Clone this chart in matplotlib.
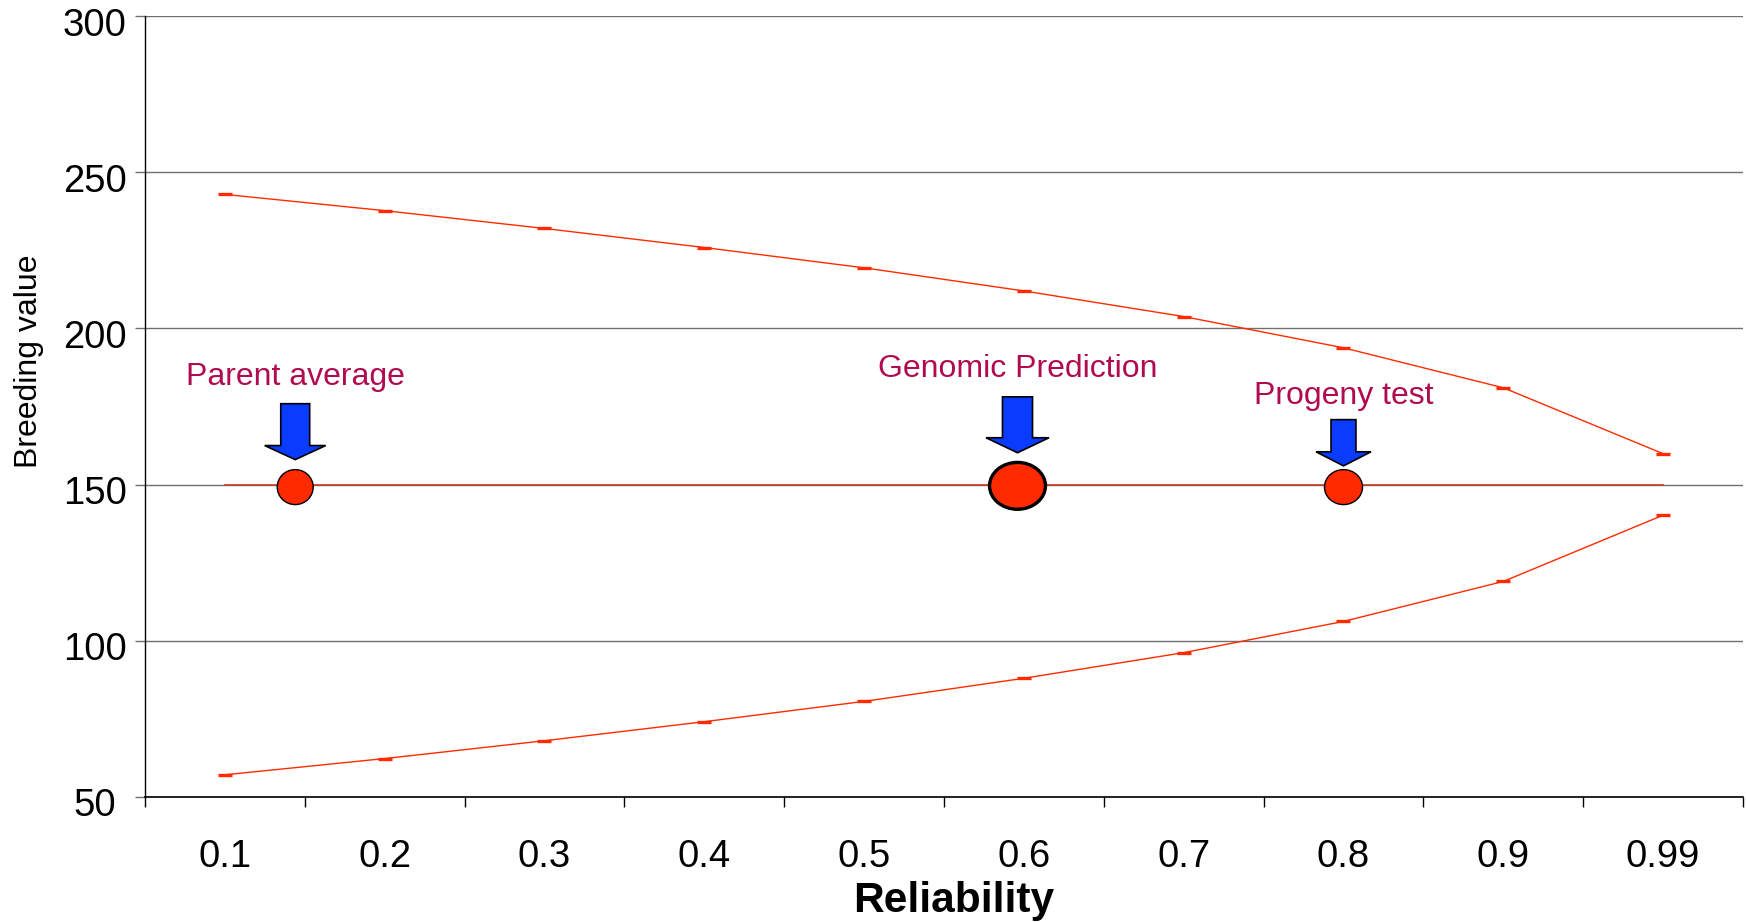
import matplotlib
matplotlib.use("Agg")
import matplotlib.pyplot as plt
from matplotlib.patches import Ellipse, FancyArrow
from matplotlib.transforms import ScaledTranslation

plt.rcParams["font.family"] = ["Liberation Sans", "DejaVu Sans"]

# reliability classes on the x axis
reliability = ["0.1", "0.2", "0.3", "0.4", "0.5", "0.6", "0.7", "0.8", "0.9", "0.99"]

# breeding value with its confidence bounds
upper = [242.9, 237.7, 232.0, 225.9, 219.4, 212.0, 203.8, 193.8, 181.0, 159.9]
mean = [150] * 10
lower = [57.1, 62.3, 68.0, 74.1, 80.6, 88.0, 96.2, 106.2, 119.0, 140.2]

# evaluation methods and where they sit on the reliability scale
methods = ["Parent average", "Genomic Prediction", "Progeny test"]
method_pos = [0.44, 4.96, 7.0]
method_value = [149.2, 149.6, 149.2]

RED = "#FF2A00"
BLUE = "#0A3CFF"
TEXT = "#B00A50"

fig = plt.figure(figsize=(17.47, 9.22), dpi=100)
ax = fig.add_axes([0.083, 0.1356, 0.9147, 0.847])

x = list(range(len(reliability)))
ax.set_xlim(-0.5, len(reliability) - 0.5)
ax.set_ylim(50, 300)

ax.yaxis.grid(True, color="#707070", linewidth=1.0)
ax.set_axisbelow(True)

for series in (upper, lower):
    ax.plot(x, series, color=RED, linewidth=1.0, marker="_",
            markersize=10, markeredgewidth=2.4, zorder=3)
ax.plot(x, mean, color="#C83C24", linewidth=1.2, zorder=3)

# marker ellipses; the genomic one is larger and outlined
sizes = [(0.225, 11.2, 1.0), (0.35, 15.0, 2.4), (0.238, 11.2, 1.0)]
for pos, val, (w, h, lw) in zip(method_pos, method_value, sizes):
    ax.add_patch(Ellipse((pos, val), w, h, facecolor=RED, edgecolor="black",
                         linewidth=lw, zorder=5))

# down arrows: (top, tip, shaft width, head width, head length)
arrows = [(175.9, 158.0, 0.181, 0.382, 4.5),
          (178.1, 160.2, 0.188, 0.394, 4.8),
          (170.8, 156.0, 0.156, 0.344, 4.5)]
for pos, (top, tip, sw, hw, hl) in zip(method_pos, arrows):
    ax.add_patch(FancyArrow(pos, top, 0, tip - top, width=sw, head_width=hw,
                            head_length=hl, length_includes_head=True,
                            facecolor=BLUE, edgecolor="black", linewidth=1.2,
                            zorder=6))

label_y = [182.0, 184.6, 175.8]
for name, pos, ly in zip(methods, method_pos, label_y):
    ax.text(pos, ly, name, color=TEXT, fontsize=23, ha="center",
            va="baseline", zorder=7)

# category boundaries carry the ticks, centres carry the labels
ax.set_xticks([i - 0.5 for i in range(len(reliability) + 1)])
ax.set_xticklabels([])
ax.set_xticks(x, minor=True)
ax.set_xticklabels(reliability, minor=True, fontsize=27.5)
ax.tick_params(axis="x", which="major", length=7.2, width=1.0, color="black")
ax.tick_params(axis="x", which="minor", length=0, pad=30)

ax.set_yticks([50, 100, 150, 200, 250, 300])
ax.tick_params(axis="y", length=7.2, width=1.0, color="#707070", labelsize=27.5,
               pad=29)
shift = ScaledTranslation(0, -0.055, fig.dpi_scale_trans)
for lab in ax.get_yticklabels():
    lab.set_horizontalalignment("center")
    lab.set_transform(lab.get_transform() + shift)

for side in ("top", "right"):
    ax.spines[side].set_visible(False)
ax.spines["left"].set_linewidth(1.0)
ax.spines["bottom"].set_linewidth(1.2)

ax.set_ylabel("Breeding value", fontsize=23)
ax.yaxis.set_label_coords(-0.0635, 0.558)
ax.set_xlabel("Reliability", fontsize=30.5, fontweight="bold")
ax.xaxis.set_label_coords(0.506, -0.108)

fig.savefig("out.png", dpi=100)
